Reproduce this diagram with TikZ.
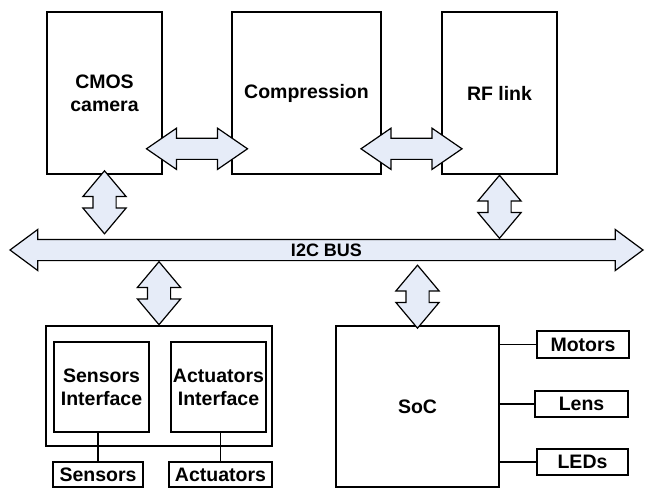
\documentclass[tikz,border=0pt]{standalone}
\usepackage{fontspec}
\setmainfont{Liberation Sans}
\usepackage{tikz}
\usetikzlibrary{shapes.arrows, calc}
\definecolor{arrowfill}{RGB}{230,236,248}
\tikzstyle{block} = [rectangle, draw, line width=1.6pt, text centered, align=center, inner sep=0pt, font=\fontsize{19.5}{23}\selectfont\bfseries]
\tikzstyle{smallblock} = [rectangle, draw, line width=1.6pt, text centered, inner sep=0pt, font=\fontsize{19.5}{23}\selectfont\bfseries]
\tikzstyle{dblarrow} = [double arrow, draw, fill=arrowfill, line width=1.2pt, double arrow head extend=10pt, inner xsep=0pt, inner ysep=11pt, minimum width=42pt, double arrow tip angle=80]
\tikzstyle{link} = [line width=1.6pt]

\begin{document}
\begin{tikzpicture}[x=1pt, y=-1pt, node distance=200pt]
\useasboundingbox (0,0) rectangle (645,489);

\node (cmos) [block, minimum width=115pt, minimum height=162pt] at (104.5,93) {CMOS\\camera};

\node (comp) [block, right of=cmos, xshift=2pt, minimum width=149pt, minimum height=162pt] {Compression};

\node (rf) [block, right of=comp, xshift=-7pt, minimum width=115pt, minimum height=162pt] {RF link};

\node (bus) [dblarrow, minimum height=633pt, minimum width=40pt, inner ysep=4pt, text height=12pt, text depth=0pt, double arrow tip angle=73, font=\fontsize{18}{18}\selectfont\bfseries] at (326.5,250) {I2C BUS};

\node (ifbox) [block, minimum width=226pt, minimum height=120pt] at (159,386) {};
\node (sensif) [block, minimum width=95pt, minimum height=90pt] at (101.5,387) {Sensors\\Interface};
\node (actif) [block, minimum width=95pt, minimum height=90pt] at (218.5,387) {Actuators\\Interface};
\node (sensors) [smallblock, minimum width=90pt, minimum height=25pt] at (98,474.5) {Sensors};
\node (actuators) [smallblock, minimum width=103pt, minimum height=25pt] at (220.5,474.5) {Actuators};

\node (soc) [block, minimum width=163pt, minimum height=161pt] at (417.5,406.5) {SoC};
\node (motors) [smallblock, minimum width=92pt, minimum height=27pt] at (583,344.5) {Motors};
\node (lens) [smallblock, minimum width=93pt, minimum height=26pt] at (581.5,404) {Lens};
\node (leds) [smallblock, minimum width=91pt, minimum height=26pt] at (582.5,462) {LEDs};

\node (a1) [dblarrow, rotate=90, minimum height=63pt, xshift=4.5pt] at ($(cmos.south)!.5!(cmos.south |- bus.north)$) {};
\node (a2) [dblarrow, minimum height=101pt, minimum width=40pt, inner ysep=10pt, double arrow tip angle=69, yshift=26pt] at ($(cmos.south east)!.5!(comp.south west)$) {};
\node (a3) [dblarrow, minimum height=101pt, minimum width=40pt, inner ysep=10pt, double arrow tip angle=69, yshift=26pt] at ($(comp.south east)!.5!(rf.south west)$) {};
\node (a4) [dblarrow, rotate=90, minimum height=63pt] at ($(rf.south)!.5!(rf.south |- bus.north)$) {};
\node (a5) [dblarrow, rotate=90, minimum height=63pt] at ($(bus.south -| ifbox.north)!.5!(ifbox.north)$) {};
\node (a6) [dblarrow, rotate=90, minimum height=63pt, xshift=-3.5pt] at ($(bus.south -| soc.north)!.5!(soc.north)$) {};

\draw [link] (sensif.south -| sensors.north) -- (sensors.north);
\draw [link] (actif.south -| actuators.north) -- (actuators.north);
\draw [link] (soc.east |- motors.west) -- (motors.west);
\draw [link] (soc.east |- lens.west) -- (lens.west);
\draw [link] (soc.east |- leds.west) -- (leds.west);
\end{tikzpicture}
\end{document}
